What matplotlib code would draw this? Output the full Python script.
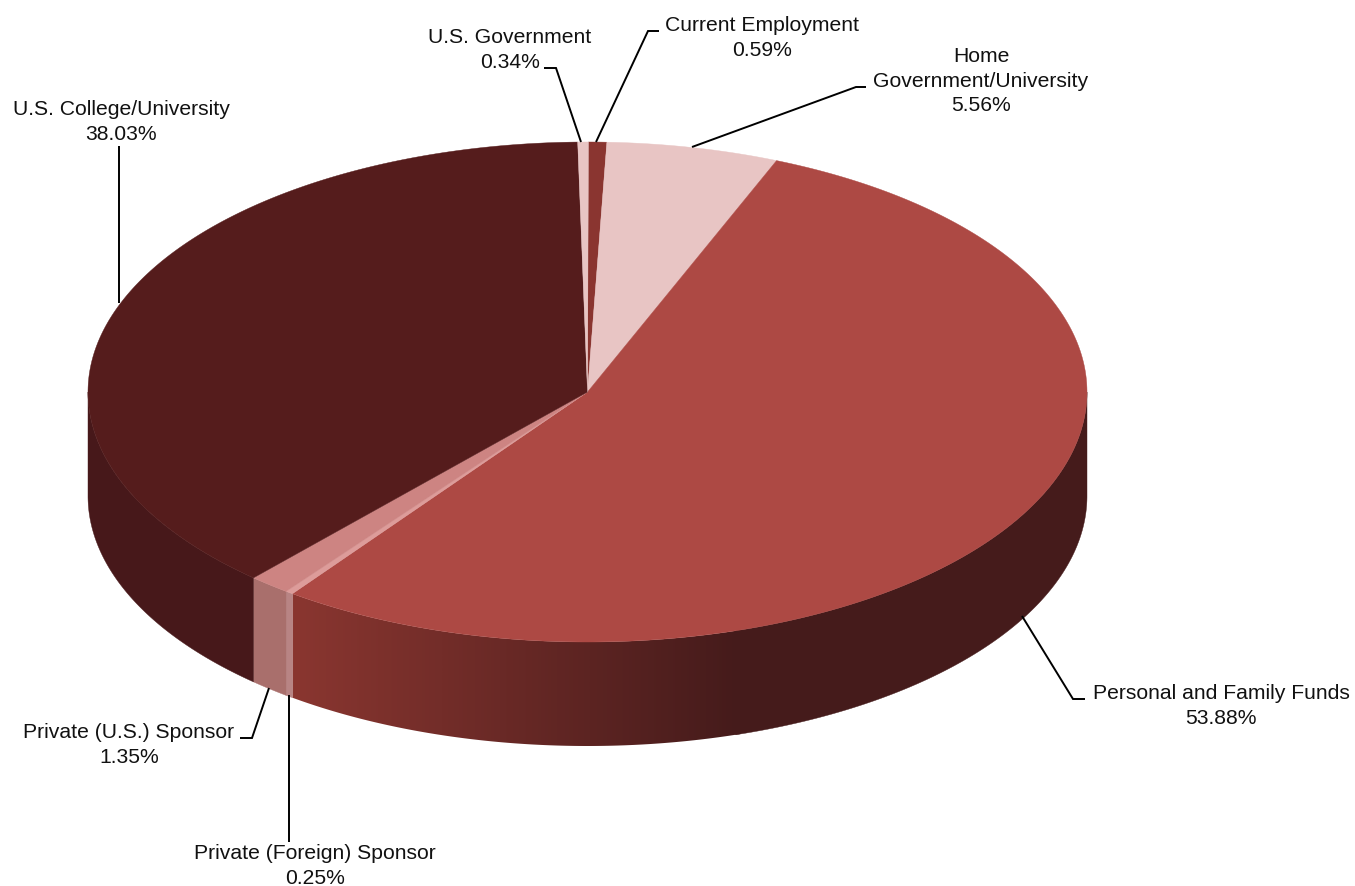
import numpy as np
import matplotlib
matplotlib.use('Agg')
import matplotlib.pyplot as plt
from matplotlib.colors import LinearSegmentedColormap
from matplotlib.patches import Polygon

plt.rcParams['font.family'] = ['Liberation Sans', 'DejaVu Sans']

# slices, clockwise from 12 o'clock
categories = ['Current Employment', 'Home\nGovernment/University', 'Personal and Family Funds',
              'Private (Foreign) Sponsor', 'Private (U.S.) Sponsor', 'U.S. College/University',
              'U.S. Government']
shares = [0.59, 5.56, 53.88, 0.25, 1.35, 38.03, 0.34]
top_colors = ['#8a3530', '#e8c5c4', '#ad4944', '#dd9c9a', '#cd8482', '#551c1c', '#e8c5c4']
wall_colors = ['#6b2a28', '#a98f8e', None, '#b88484', '#a96f6c', '#47181a', '#a98f8e']

# label centre and leader line for each slice, in pixels
label_xy = [(762, 38), (981, 81), (1221, 706), (315, 866), (129, 745), (121, 122), (510, 50)]
leaders = [
    [(659, 31), (648, 31), (596, 142)],
    [(866, 87), (856, 87), (692, 147)],
    [(1022, 616), (1073, 699), (1085, 699)],
    [(289, 695), (289, 842)],
    [(269, 688), (252, 738), (240, 738)],
    [(119, 146), (119, 303)],
    [(544, 68), (556, 68), (581, 142)],
]

cx, cy, rx, ry, depth = 587.5, 392, 499.5, 250, 104
start_deg = 0.1


def rim(deg, drop=0):
    t = np.radians(deg)
    return np.column_stack([cx + rx * np.sin(t), cy - ry * np.cos(t) + drop])


fig = plt.figure(figsize=(13.55, 8.86), dpi=100)
ax = fig.add_axes([0, 0, 1, 1])

# 3d side wall, only the front half of the ellipse is visible
edges = start_deg + np.cumsum([0] + shares) * 3.6
for i, name in enumerate(categories):
    a0, a1 = max(edges[i], 90), min(edges[i + 1], 270)
    if a1 <= a0:
        continue
    arc = np.linspace(a0, a1, 400)
    pts = np.vstack([rim(arc), rim(arc[::-1], depth)])
    if wall_colors[i] is not None:
        ax.add_patch(Polygon(pts, closed=True, fc=wall_colors[i], ec=wall_colors[i], lw=0.3, zorder=2))
    else:
        # the big slice fades from dark on the right to lighter at its left end
        poly = Polygon(pts, closed=True, fc='none', ec='none', zorder=2)
        ax.add_patch(poly)
        cmap = LinearSegmentedColormap.from_list('wall', ['#8a3630', '#451b1b'])
        grad = np.linspace(0, 1, 400).reshape(1, -1)
        im = ax.imshow(grad, cmap=cmap, extent=[292, 740, 750, 390], aspect='auto', zorder=2)
        im.set_clip_path(poly)
        arc_r = arc[rim(arc)[:, 0] >= 735]
        ax.add_patch(Polygon(np.vstack([rim(arc_r), rim(arc_r[::-1], depth)]), closed=True,
                             fc='#451b1b', ec='#451b1b', lw=0.3, zorder=2))

# top face
for i, name in enumerate(categories):
    arc = np.linspace(edges[i], edges[i + 1], 300)
    pts = np.vstack([[cx, cy], rim(arc)])
    ax.add_patch(Polygon(pts, closed=True, fc=top_colors[i], ec=top_colors[i], lw=0.3, zorder=3))

# labels and leaders
for name, val, xy, line in zip(categories, shares, label_xy, leaders):
    xs, ys = zip(*line)
    ax.plot(xs, ys, color='black', lw=1.4, zorder=4, solid_capstyle='butt', solid_joinstyle='miter')
    ax.text(xy[0], xy[1], f'{name}\n{val:.2f}%', ha='center', va='center', fontsize=15.2,
            linespacing=1.36, color='#111111', zorder=5)

ax.set_xlim(0, 1355)
ax.set_ylim(886, 0)
ax.axis('off')
fig.savefig('out.png', dpi=100, facecolor='white')
